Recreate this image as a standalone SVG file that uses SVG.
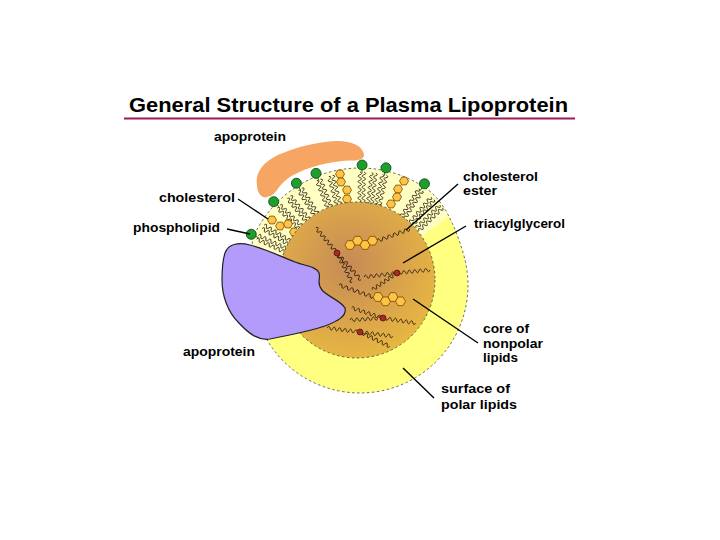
<svg xmlns="http://www.w3.org/2000/svg" xmlns:xlink="http://www.w3.org/1999/xlink" width="720" height="540" viewBox="0 0 720 540">
<style>
.lb{font-family:"Liberation Sans",Arial,sans-serif;font-weight:bold;font-size:12.5px;fill:#000}
.tt{font-family:"Liberation Sans",Arial,sans-serif;font-weight:bold;font-size:19.5px;fill:#000}
.tl{fill:none;stroke:#2a1a0a;stroke-width:0.8}
.hd{fill:#1f9e2e;stroke:#0a4a12;stroke-width:0.8}
.hx{fill:#ffc444;stroke:#7a4a00;stroke-width:0.8}
.gl{fill:#a52a2a;stroke:#400;stroke-width:0.6}
.ds{fill:none;stroke:#444;stroke-width:0.8;stroke-dasharray:2.5,2.5}
.ld{stroke:#000;stroke-width:1.4;fill:none}
</style>
<defs>
<path id="w33" d="M0,0 q1.4,-3.6 2.75,0 t2.75,0 t2.75,0 t2.75,0 t2.75,0 t2.75,0 t2.75,0 t2.75,0 t2.75,0 t2.75,0 t2.75,0 t2.75,0"/>
<g id="pt"><use xlink:href="#w33" href="#w33" transform="translate(113,-2) rotate(180)"/><use xlink:href="#w33" href="#w33" transform="translate(113,2) rotate(180)"/></g>
<g id="ph"><line x1="112" y1="0" x2="116" y2="0" stroke="#0a4a12"/><circle cx="120" cy="0" r="5"/></g>
<polygon id="hs" points="4.5,0 2.25,3.9 -2.25,3.9 -4.5,0 -2.25,-3.9 2.25,-3.9"/>
<polygon id="hc" points="5,0 2.5,4.33 -2.5,4.33 -5,0 -2.5,-4.33 2.5,-4.33"/>
<path id="outer" d="M468,285 A108,108 0 0 1 252,285 L252.3,239.3 A117,117 0 0 1 427.1,189.2 Q449.3,204.8 463.8,255.2 A108,108 0 0 1 468,285 Z"/>
<clipPath id="oc"><use xlink:href="#outer" href="#outer"/></clipPath>
<radialGradient id="cg" cx="0.45" cy="0.4" r="0.6">
<stop offset="0" stop-color="#c58a55"/>
<stop offset="0.55" stop-color="#d8a24c"/>
<stop offset="1" stop-color="#e6b642"/>
</radialGradient>
</defs>

<g id="title">
<text class="tt" x="129" y="112" textLength="439" lengthAdjust="spacingAndGlyphs">General Structure of a Plasma Lipoprotein</text>
<line x1="124" y1="118.5" x2="575" y2="118.5" stroke="#9c1a55" stroke-width="2"/>
</g>

<g id="surface">
<use xlink:href="#outer" href="#outer" fill="#ffff80"/>
<polygon points="360,285 162,257 162,40 600,40 600,97.5" fill="#ffffc4" clip-path="url(#oc)"/>
<use xlink:href="#outer" href="#outer" class="ds"/>
<g id="phospholipids" transform="translate(360,285)">
<g class="tl">
<use xlink:href="#pt" href="#pt" transform="rotate(-155)"/>
<use xlink:href="#pt" href="#pt" transform="rotate(-149)"/>
<use xlink:href="#pt" href="#pt" transform="rotate(-136)"/>
<use xlink:href="#pt" href="#pt" transform="rotate(-129)"/>
<use xlink:href="#pt" href="#pt" transform="rotate(-122)"/>
<use xlink:href="#pt" href="#pt" transform="rotate(-111.5)"/>
<use xlink:href="#pt" href="#pt" transform="rotate(-105)"/>
<use xlink:href="#pt" href="#pt" transform="rotate(-89)"/>
<use xlink:href="#pt" href="#pt" transform="rotate(-83)"/>
<use xlink:href="#pt" href="#pt" transform="rotate(-77.5)"/>
<use xlink:href="#pt" href="#pt" transform="rotate(-57.5)"/>
<use xlink:href="#pt" href="#pt" transform="rotate(-50)"/>
<use xlink:href="#pt" href="#pt" transform="rotate(-44)"/>
</g>
<g class="hd">
<use xlink:href="#ph" href="#ph" transform="rotate(-155)"/>
<use xlink:href="#ph" href="#ph" transform="rotate(-136)"/>
<use xlink:href="#ph" href="#ph" transform="rotate(-122)"/>
<use xlink:href="#ph" href="#ph" transform="rotate(-111.5)"/>
<use xlink:href="#ph" href="#ph" transform="rotate(-89)"/>
<use xlink:href="#ph" href="#ph" transform="rotate(-77.5)"/>
<use xlink:href="#ph" href="#ph" transform="rotate(-57.5)"/>
</g>
</g>
<g id="shell-cholesterol" class="hx">
<use xlink:href="#hs" href="#hs" x="272" y="220"/>
<use xlink:href="#hs" href="#hs" x="280" y="226"/>
<use xlink:href="#hs" href="#hs" x="288" y="224"/>
<use xlink:href="#hs" href="#hs" x="294" y="232"/>
<use xlink:href="#hs" href="#hs" x="340" y="174"/>
<use xlink:href="#hs" href="#hs" x="341" y="182"/>
<use xlink:href="#hs" href="#hs" x="347" y="190"/>
<use xlink:href="#hs" href="#hs" x="347" y="199"/>
<use xlink:href="#hs" href="#hs" x="404" y="181"/>
<use xlink:href="#hs" href="#hs" x="398" y="189"/>
<use xlink:href="#hs" href="#hs" x="397" y="197"/>
<use xlink:href="#hs" href="#hs" x="391" y="204"/>
</g>
</g>

<g id="core">
<circle cx="357" cy="280" r="78" fill="url(#cg)"/>
<circle cx="357" cy="280" r="78" class="ds"/>
<g class="tl">
<use xlink:href="#w33" href="#w33" transform="translate(377,241) rotate(-20) scale(1.05,1)"/>
<use xlink:href="#w33" href="#w33" transform="translate(373,297) rotate(199.4) scale(1.09,1)"/>
<use xlink:href="#w33" href="#w33" transform="translate(337,253) rotate(-130)"/>
<use xlink:href="#w33" href="#w33" transform="translate(337,253) rotate(62.7)"/>
<use xlink:href="#w33" href="#w33" transform="translate(337,253) rotate(48.4) scale(1.09,1)"/>
<use xlink:href="#w33" href="#w33" transform="translate(397,273) rotate(172.9)"/>
<use xlink:href="#w33" href="#w33" transform="translate(397,273) rotate(-5.5)"/>
<use xlink:href="#w33" href="#w33" transform="translate(397,273) rotate(145.8) scale(0.9,1)"/>
<use xlink:href="#w33" href="#w33" transform="translate(383,318) rotate(-162.1)"/>
<use xlink:href="#w33" href="#w33" transform="translate(383,318) rotate(176.3)"/>
<use xlink:href="#w33" href="#w33" transform="translate(383,318) rotate(8.9)"/>
<use xlink:href="#w33" href="#w33" transform="translate(360,332) rotate(187.1)"/>
<use xlink:href="#w33" href="#w33" transform="translate(360,332) rotate(7.4)"/>
<use xlink:href="#w33" href="#w33" transform="translate(360,332) rotate(25.8)"/>
</g>
<g class="hx">
<use xlink:href="#hc" href="#hc" x="350" y="245"/>
<use xlink:href="#hc" href="#hc" x="357.5" y="240.7"/>
<use xlink:href="#hc" href="#hc" x="365" y="245"/>
<use xlink:href="#hc" href="#hc" x="372.5" y="240.7"/>
<use xlink:href="#hc" href="#hc" x="378" y="297"/>
<use xlink:href="#hc" href="#hc" x="385.5" y="301.3"/>
<use xlink:href="#hc" href="#hc" x="393" y="297"/>
<use xlink:href="#hc" href="#hc" x="400.5" y="301.3"/>
</g>
<g class="gl">
<circle cx="337" cy="253" r="3"/>
<circle cx="397" cy="273" r="3"/>
<circle cx="383" cy="318" r="3"/>
<circle cx="360" cy="332" r="3"/>
</g>
</g>

<g id="apoprotein-large">
<path d="M225,253 C228,244 238,242 250,245 C265,249 280,256 295,262 C305,266 316,266 319,273 C321,279 316,283 322,290 C328,297 340,300 345,308 C347,316 338,321 325,326 C310,331 290,335 270,339 C258,341 248,333 238,322 C228,312 222,296 222,280 C222,268 223,259 225,253 Z" fill="#b29bfb" stroke="#222" stroke-width="1.2"/>
</g>

<g id="apoprotein-small">
<path d="M257,185 C255,172 264,160 283,153 C298,147 315,142 337,141 C352,141 362,146 364,154 C365,159 358,161 350,160.5 C335,161 315,165 300,171.7 C290,176 282,182 277,190 C273,196 267,198 263,197 C259,195 257,190 257,185 Z" fill="#f6a563"/>
</g>

<g id="connectors" class="ld">
<line x1="238" y1="199" x2="268" y2="219"/>
<line x1="227" y1="229" x2="250" y2="234"/>
<line x1="458" y1="184" x2="406" y2="230"/>
<line x1="466" y1="226" x2="403" y2="263"/>
<line x1="413" y1="299" x2="478" y2="343"/>
<line x1="403" y1="368" x2="434" y2="398"/>
</g>

<g id="labels" class="lb">
<g id="lbl-apoprotein-top"><text x="214" y="141" textLength="72" lengthAdjust="spacingAndGlyphs">apoprotein</text></g>
<g id="lbl-cholesterol"><text x="159" y="202" textLength="76" lengthAdjust="spacingAndGlyphs">cholesterol</text></g>
<g id="lbl-phospholipid"><text x="133" y="232" textLength="87" lengthAdjust="spacingAndGlyphs">phospholipid</text></g>
<g id="lbl-cholesterol-ester"><text x="463" y="181" textLength="75" lengthAdjust="spacingAndGlyphs">cholesterol</text><text x="463" y="195" textLength="34" lengthAdjust="spacingAndGlyphs">ester</text></g>
<g id="lbl-triacylglycerol"><text x="474" y="228" textLength="91" lengthAdjust="spacingAndGlyphs">triacylglycerol</text></g>
<g id="lbl-core"><text x="483" y="333" textLength="46" lengthAdjust="spacingAndGlyphs">core of</text><text x="483" y="347.5" textLength="60" lengthAdjust="spacingAndGlyphs">nonpolar</text><text x="483" y="362" textLength="35" lengthAdjust="spacingAndGlyphs">lipids</text></g>
<g id="lbl-surface"><text x="441" y="393" textLength="69" lengthAdjust="spacingAndGlyphs">surface of</text><text x="441" y="409" textLength="76" lengthAdjust="spacingAndGlyphs">polar lipids</text></g>
<g id="lbl-apoprotein-bottom"><text x="183" y="356" textLength="72" lengthAdjust="spacingAndGlyphs">apoprotein</text></g>
</g>
</svg>
